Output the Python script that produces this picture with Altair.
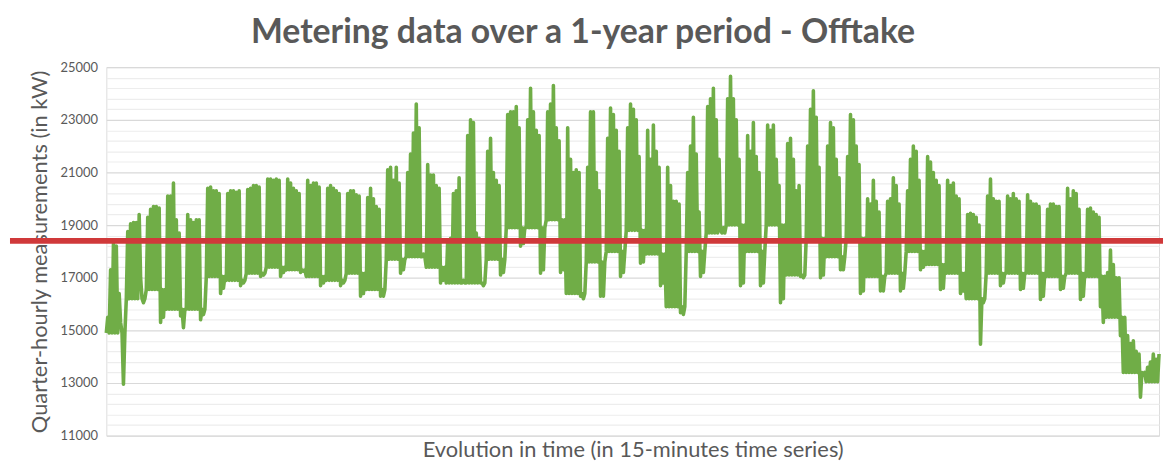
import altair as alt
import pandas as pd

# Weekly readings (kW).
# Five weekday peaks per week (Mon..Fri)
weekday_highs = [
    [15500, 17300, 18300, 18200, 16400],
    [18750, 19050, 19100, 19100, 19400],
    [19300, 19600, 19700, 19700, 19650],
    [20100, 20100, 20600, 19200, 18700],
    [19400, 19200, 19100, 19200, 19200],
    [20400, 20450, 20300, 20300, 20200],
    [20200, 20300, 20300, 20250, 20300],
    [20350, 20400, 20500, 20500, 20450],
    [20750, 20750, 20700, 20750, 20700],
    [20750, 20600, 20400, 20300, 20200],
    [20700, 20500, 20600, 20600, 20450],
    [20400, 20500, 20400, 20300, 20200],
    [20200, 20300, 20300, 20150, 20100],
    [20050, 20400, 20000, 19700, 19600],
    [21100, 21200, 20700, 21200, 20600],
    [21000, 21700, 22500, 23600, 22700],
    [21300, 20900, 20900, 20500, 20400],
    [18400, 18500, 20200, 20300, 20800],
    [22400, 23000, 22900, 18700, 18500],
    [21800, 22300, 21000, 20700, 20500],
    [23200, 23300, 23300, 23500, 22700],
    [23000, 24200, 23300, 22600, 22400],
    [23300, 23600, 24300, 22700, 22200],
    [22700, 21500, 21000, 21100, 21000],
    [21200, 23300, 23300, 21000, 20300],
    [22300, 23450, 23200, 22600, 21800],
    [22700, 23600, 23400, 23000, 21600],
    [22600, 21500, 22800, 21800, 21200],
    [21200, 20500, 19900, 19900, 19800],
    [21000, 22000, 23100, 21700, 19500],
    [23500, 23800, 24200, 23000, 21500],
    [23800, 24650, 23800, 23000, 21500],
    [22400, 21800, 22900, 21600, 21000],
    [22800, 22600, 22800, 21500, 20500],
    [22100, 22300, 21500, 20300, 20500],
    [22000, 23400, 24100, 23100, 21200],
    [22000, 22900, 22700, 21500, 20800],
    [21600, 23200, 23000, 22000, 21300],
    [20000, 19800, 20700, 19900, 19500],
    [19900, 20000, 20800, 20500, 19800],
    [20300, 21500, 22000, 21800, 20700],
    [21600, 21400, 21000, 20700, 20500],
    [20700, 20500, 20600, 20100, 20000],
    [19400, 19450, 19400, 19300, 19000],
    [20100, 20750, 20000, 19900, 19900],
    [20100, 20000, 20200, 20000, 19900],
    [20150, 19900, 19800, 19800, 19700],
    [19600, 19800, 19800, 19700, 19700],
    [20400, 20000, 20300, 20200, 19600],
    [19600, 19650, 19500, 19400, 19300],
    [17200, 18050, 17500, 17000, 17000],
    [14800, 14500, 14600, 14200, 14100],
    [13600, 13800, 14100, 13900, 14100],
]
# Weekday night trough per week
weekday_low = [14900, 16200, 16550, 15800, 15800, 17050, 16900, 17170, 17400, 17300,
               17050, 16900, 17170, 16550, 17700, 17800, 17400, 16800, 16800, 17700,
               18900, 18900, 19200, 16400, 17600, 18000, 18800, 17900, 15900, 18000,
               18700, 19000, 18000, 19000, 17100, 18500, 17800, 18500, 17050, 17170,
               18000, 17500, 17170, 16200, 17170, 17170, 17170, 17050, 17170, 17050,
               15500, 13400, 13050]
# Weekend lows (last week of the series ends on a Friday)
saturday_low = [15300, 17000, 15300, 15550, 15400, 16400, 16700, 17050, 17050, 17200,
                16700, 16700, 16300, 16300, 17170, 17800, 16800, 16800, 16800, 17100,
                18200, 17170, 17200, 16300, 16300, 17050, 17550, 16700, 15670, 17050,
                18800, 16700, 16700, 16050, 17050, 17000, 17300, 16400, 16500, 16500,
                17300, 16550, 16400, 14470, 16700, 16550, 16170, 16550, 16170, 15900,
                14800, 12460]
sunday_low = [12950, 16050, 15500, 15100, 15600, 16600, 16800, 17100, 17200, 17250,
              16800, 16800, 16400, 16300, 17300, 17900, 16900, 16900, 16700, 17200,
              18300, 17300, 17300, 16200, 16300, 17200, 17600, 16800, 15600, 17200,
              18900, 16800, 16800, 16200, 17000, 17100, 17300, 16500, 16500, 16600,
              17400, 16600, 16500, 16050, 16800, 16600, 16300, 16600, 16300, 15300,
              13400, 13300]

threshold = [18400]
y_ticks = list(range(11000, 25001, 400))

rows = []
t = 0
for w, highs in enumerate(weekday_highs):
    low = weekday_low[w]
    seq = []
    for h in highs:
        seq += [low, h]
    if w < len(saturday_low):
        seq += [saturday_low[w], low, sunday_low[w], low]
    for v in seq:
        rows.append({"t": t, "kw": v})
        t += 1
df = pd.DataFrame(rows)

FONT = "Lato"
GREY = "#595959"

line = alt.Chart(df).mark_line(color="#70AD47", strokeWidth=3.6, strokeJoin="round").encode(
    x=alt.X("t:Q", scale=alt.Scale(domain=[0, t - 1], nice=False, zero=False),
            axis=alt.Axis(title="Evolution in time (in 15-minutes time series)",
                          labels=False, ticks=False, domain=False, grid=False,
                          titleFontSize=22, titleFont=FONT, titleFontWeight="normal",
                          titleColor=GREY, titlePadding=4)),
    y=alt.Y("kw:Q", scale=alt.Scale(domain=[11000, 25000], nice=False, zero=False),
            axis=alt.Axis(title="Quarter-hourly measurements (in kW)",
                          values=y_ticks, tickCount=60, format="d",
                          labelExpr="datum.value % 2000 == 1000 ? datum.label : ''",
                          labelOverlap=False,
                          labelFontSize=13, labelFont=FONT, labelColor=GREY,
                          labelPadding=9, ticks=False, domain=False,
                          gridColor={"condition": {"test": "datum.value % 2000 == 1000",
                                                   "value": "#D9D9D9"},
                                     "value": "#EDEDED"},
                          gridWidth=1.2,
                          titleFontSize=22, titleFont=FONT, titleFontWeight="normal",
                          titleColor=GREY, titlePadding=9)),
)

red = alt.Chart(pd.DataFrame({"y": threshold})).mark_rule(
    color="#D0393A", strokeWidth=6).encode(
    y="y:Q", x=alt.value(-97), x2=alt.value(1070))

chart = (line + red).properties(
    width=1060, height=371,
    title=alt.TitleParams(text="Metering data over a 1-year period - Offtake",
                          fontSize=34, font=FONT, fontWeight="bold",
                          color=GREY, anchor="middle", dx=-50, offset=11),
    autosize=alt.AutoSizeParams(type="none"),
    padding={"left": 99, "top": 58, "right": 4, "bottom": 27},
).configure_view(stroke=None).configure(background="white")

chart.save("out.html", embed_options={"renderer": "svg", "actions": False})
